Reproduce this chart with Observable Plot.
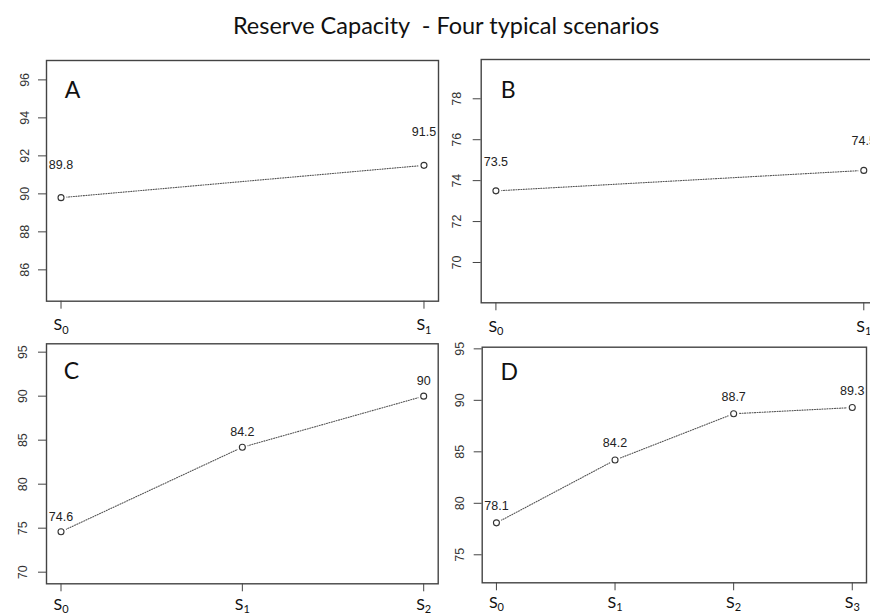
<!DOCTYPE html>
<html><head><meta charset="utf-8">
<script src="https://cdn.jsdelivr.net/npm/d3@7"></script>
<script src="https://cdn.jsdelivr.net/npm/@observablehq/plot@0.6"></script>
<style>
body{margin:0;background:#fff;}
#wrap{position:relative;width:870px;height:616px;overflow:hidden;background:#fff;}
#title{position:absolute;left:0;top:12px;width:892px;text-align:center;font-family:Lato,sans-serif;font-size:23.5px;line-height:26px;color:#111;white-space:pre;}
.panel{position:absolute;}
</style></head><body>
<div id="wrap"><div id="title">Reserve Capacity  - Four typical scenarios</div></div>
<script>
// ---- data ----
const panelLetters = ["A", "B", "C", "D"];
const scenariosA = ["S0", "S1"];
const valuesA = [89.8, 91.5];
const yTicksA = [86, 88, 90, 92, 94, 96];
const scenariosB = ["S0", "S1"];
const valuesB = [73.5, 74.5];
const yTicksB = [70, 72, 74, 76, 78];
const scenariosC = ["S0", "S1", "S2"];
const valuesC = [74.6, 84.2, 90];
const yTicksC = [70, 75, 80, 85, 90, 95];
const scenariosD = ["S0", "S1", "S2", "S3"];
const valuesD = [78.1, 84.2, 88.7, 89.3];
const yTicksD = [75, 80, 85, 90, 95];

// ---- layout (positions only) ----
const layouts = [
  {left: 0, top: 40, w: 440, h: 300, ml: 46, mr: 2, mt: 20, mb: 39.3, yd: [84.35, 97.02], vdy: -33, ydx: 22, ldx: 26, ldy: 30, sdy: 24},
  {left: 440, top: 40, w: 440, h: 300, ml: 40.7, mr: 2, mt: 19, mb: 37.7, yd: [68.03, 79.92], vdy: -29, ydx: 24, ldx: 27, ldy: 31, sdy: 24},
  {left: 0, top: 330, w: 440, h: 286, ml: 46, mr: 2.3, mt: 13.3, mb: 32.7, yd: [68.68, 95.95], vdy: -15, ydx: 24, ldx: 25, ldy: 28, sdy: 21},
  {left: 440, top: 330, w: 430, h: 286, ml: 41.7, mr: 4, mt: 16.7, mb: 33.7, yd: [72.28, 95.16], vdy: -17, ydx: 22, ldx: 27, ldy: 25, sdy: 20}
];
const series = [
  [scenariosA, valuesA, yTicksA],
  [scenariosB, valuesB, yTicksB],
  [scenariosC, valuesC, yTicksC],
  [scenariosD, valuesD, yTicksD]
];

const wrap = document.getElementById("wrap");
const rFont = "Liberation Sans, Arial, sans-serif";

series.forEach(([scen, vals, yTicks], k) => {
  const L = layouts[k];
  const rows = scen.map((s, i) => ({i, s, v: vals[i]}));
  const n = scen.length - 1;
  const pad = 0.04 * n;
  const plot = Plot.plot({
    width: L.w, height: L.h,
    marginLeft: L.ml, marginRight: L.mr, marginTop: L.mt, marginBottom: L.mb,
    style: {background: "transparent", color: "#444"},
    x: {domain: [-pad, n + pad], ticks: rows.map(d => d.i), tickSize: 8, tickFormat: () => "", label: null},
    y: {domain: L.yd, ticks: yTicks, tickSize: 8, tickFormat: () => "", label: null},
    marks: [
      Plot.frame({stroke: "#444", strokeWidth: 1.4}),
      Plot.line(rows, {x: "i", y: "v", stroke: "#555", strokeDasharray: "1,1.5", strokeWidth: 1.1}),
      Plot.dot(rows, {x: "i", y: "v", r: 5.5, fill: "white", stroke: "none"}),
      Plot.dot(rows, {x: "i", y: "v", r: 3, fill: "none", stroke: "#333", strokeWidth: 1.1}),
      Plot.text(rows, {x: "i", y: "v", text: d => String(d.v), dy: L.vdy, fontSize: 12.5, fontFamily: rFont, fill: "#222", textAnchor: "middle", lineAnchor: "middle"}),
      Plot.text(yTicks, {y: d => d, text: d => String(d), frameAnchor: "left", dx: -L.ydx, rotate: -90, fontSize: 12.5, fontFamily: rFont, fill: "#333", textAnchor: "middle", lineAnchor: "middle"}),
      Plot.text(rows, {x: "i", text: "s", frameAnchor: "bottom", dy: L.sdy, fontSize: 16, fontFamily: "Lato, sans-serif", fill: "#111", textAnchor: "middle", lineAnchor: "middle"}),
      Plot.text([panelLetters[k]], {frameAnchor: "top-left", text: d => d, dx: L.ldx, dy: L.ldy, fontSize: 23, fontFamily: "Lato, sans-serif", fill: "#111", textAnchor: "middle", lineAnchor: "middle"})
    ]
  });
  plot.classList.add("panel");
  plot.style.left = L.left + "px";
  plot.style.top = L.top + "px";
  wrap.appendChild(plot);
  // subscripts for scenario labels
  d3.select(plot).selectAll("text").each(function() {
    const t = d3.select(this);
    const m = /^S(\d)$/.exec(this.textContent);
    if (m && this.children.length === 0) {
      t.text("S");
      t.append("tspan").attr("font-size", 11).attr("dy", 3.5).text(m[1]);
    }
  });
});
</script>
</body></html>
